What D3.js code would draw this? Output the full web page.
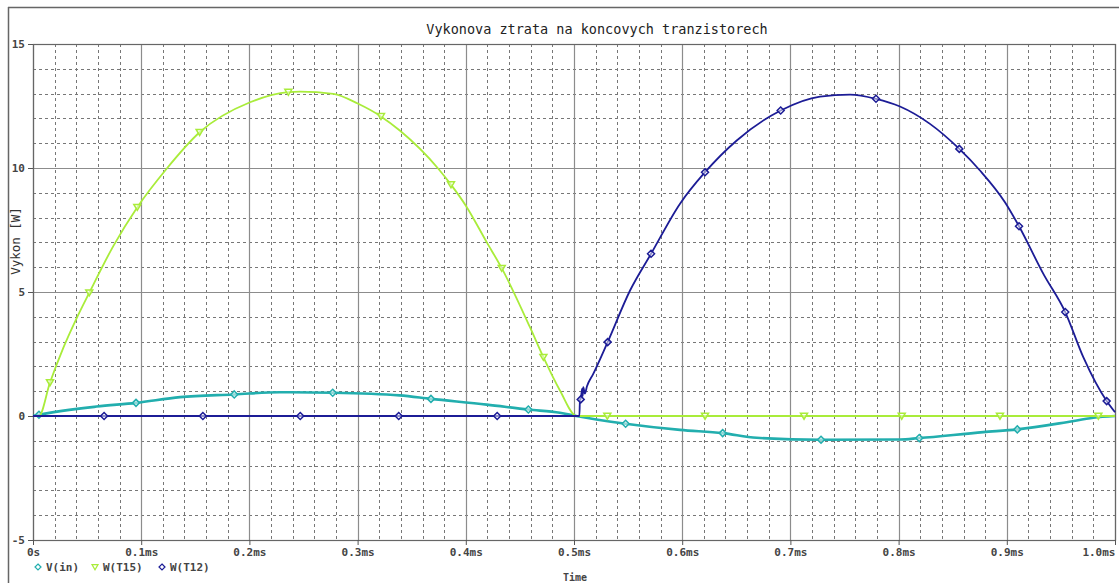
<!DOCTYPE html>
<html>
<head>
<meta charset="utf-8">
<script src="https://cdn.jsdelivr.net/npm/d3@7"></script>
<style>
  body { margin: 0; background: #fff; }
  svg { display: block; }
</style>
</head>
<body>
<div id="chart"></div>
<script>
// PSPICE PROBE PLOT - power loss on the output transistors

// time in ms, values in W (V for V(in))
var vinTime = [0, 0.0055, 0.0588, 0.0952, 0.1359, 0.186, 0.228, 0.277, 0.339, 0.3678, 0.4193, 0.4578, 0.487, 0.502,
               0.5477, 0.598, 0.6374, 0.6688, 0.7283, 0.8013, 0.8191, 0.8783, 0.9097, 0.9553, 0.98, 1.0];
var vinVal  = [0, 0.05, 0.38, 0.53, 0.76, 0.87, 0.96, 0.94, 0.83, 0.69, 0.46, 0.26, 0.13, 0,
               -0.31, -0.56, -0.69, -0.88, -0.96, -0.95, -0.89, -0.65, -0.54, -0.25, -0.07, 0];
var vinMarks = [1, 3, 5, 7, 9, 11, 14, 16, 18, 20, 22];

var t15Time = [0, 0.0055, 0.0157, 0.028, 0.0404, 0.052, 0.0742, 0.0964, 0.1235, 0.154, 0.2006, 0.236, 0.2468, 0.2775,
               0.3006, 0.3216, 0.339, 0.3746, 0.3863, 0.3999, 0.4193, 0.4332, 0.4593, 0.4717, 0.487, 0.5025,
               0.5308, 0.6211, 0.7126, 0.8029, 0.8937, 0.9846, 1.0];
var t15Val  = [0, 0, 1.35, 2.75, 3.95, 4.97, 6.85, 8.42, 9.97, 11.44, 12.65, 13.06, 13.08, 12.99,
               12.59, 12.08, 11.51, 9.97, 9.33, 8.49, 7.01, 5.96, 3.58, 2.37, 1.03, 0,
               0, 0, 0, 0, 0, 0, 0];
var t15Marks = [2, 5, 7, 9, 11, 15, 18, 21, 23, 26, 27, 28, 29, 30, 31];

var t12Time = [0, 0.0657, 0.157, 0.247, 0.338, 0.429, 0.505, 0.5055, 0.5062, 0.5075, 0.508, 0.5086, 0.510, 0.512,
               0.5178, 0.5311, 0.5518, 0.5712, 0.598, 0.6211, 0.6504, 0.691, 0.7274, 0.7551, 0.7791, 0.8013,
               0.829, 0.8561, 0.8752, 0.8983, 0.9113, 0.9338, 0.954, 0.9707, 0.9923, 1.0];
var t12Val  = [0, 0, 0, 0, 0, 0, 0, 0.7, 0.67, 1.1, 0.8, 1.16, 0.9, 1.2,
               1.7, 2.98, 5.06, 6.54, 8.56, 9.83, 11.11, 12.32, 12.88, 12.96, 12.79, 12.48,
               11.78, 10.77, 9.9, 8.62, 7.65, 5.73, 4.19, 2.37, 0.6, 0.15];
var t12Marks = [1, 2, 3, 4, 5, 8, 15, 17, 19, 21, 24, 27, 30, 32, 34];

var xTicks = [0, 0.1, 0.2, 0.3, 0.4, 0.5, 0.6, 0.7, 0.8, 0.9, 1.0];
var xTickLabels = ["0s", "0.1ms", "0.2ms", "0.3ms", "0.4ms", "0.5ms", "0.6ms", "0.7ms", "0.8ms", "0.9ms", "1.0ms"];
var yTicks = [-5, 0, 5, 10, 15];

var seriesNames = ["V(in)", "W(T15)", "W(T12)"];
var seriesColors = ["#22aeae", "#a9ec3a", "#1c1c96"];

var width = 1119, height = 583;
var plot = { left: 33, right: 1115, top: 44, bottom: 540 };
var mono = "'DejaVu Sans Mono', monospace";

var svg = d3.select("#chart").append("svg")
    .attr("width", width)
    .attr("height", height);

var x = d3.scaleLinear().domain([0, 1]).range([plot.left, plot.right]);
var y = d3.scaleLinear().domain([-5, 15]).range([plot.bottom, plot.top]);

// outer frame of the probe window
svg.append("line").attr("x1", 8).attr("x2", width).attr("y1", 7.5).attr("y2", 7.5)
    .attr("stroke", "#666").attr("stroke-width", 1.5);
svg.append("line").attr("x1", 8.5).attr("x2", 8.5).attr("y1", 7).attr("y2", height)
    .attr("stroke", "#666").attr("stroke-width", 1.5);

svg.append("text")
    .attr("x", 597).attr("y", 34)
    .attr("text-anchor", "middle")
    .style("font", "13.5px " + mono)
    .style("fill", "#222")
    .text("Vykonova ztrata na koncovych tranzistorech");

// grid
var grid = svg.append("g");
var minorX = d3.range(0, 51).map(function(i) { return i / 50; }).filter(function(d, i) { return i % 5 != 0; });
var minorY = d3.range(-5, 16).filter(function(d) { return d % 5 != 0; });

grid.selectAll(".mx").data(minorX).enter().append("line")
    .attr("x1", function(d) { return Math.round(x(d)) + 0.5; })
    .attr("x2", function(d) { return Math.round(x(d)) + 0.5; })
    .attr("y1", plot.top).attr("y2", plot.bottom)
    .attr("stroke", "#777").attr("stroke-dasharray", "3,3");
grid.selectAll(".my").data(minorY).enter().append("line")
    .attr("y1", function(d) { return Math.round(y(d)) + 0.5; })
    .attr("y2", function(d) { return Math.round(y(d)) + 0.5; })
    .attr("x1", plot.left).attr("x2", plot.right)
    .attr("stroke", "#777").attr("stroke-dasharray", "3,3");
grid.selectAll(".Mx").data(xTicks).enter().append("line")
    .attr("x1", function(d) { return Math.round(x(d)) + 0.5; })
    .attr("x2", function(d) { return Math.round(x(d)) + 0.5; })
    .attr("y1", plot.top).attr("y2", plot.bottom)
    .attr("stroke", "#8c8c8c").attr("stroke-width", 1.2);
grid.selectAll(".My").data(yTicks).enter().append("line")
    .attr("y1", function(d) { return Math.round(y(d)) + 0.5; })
    .attr("y2", function(d) { return Math.round(y(d)) + 0.5; })
    .attr("x1", plot.left).attr("x2", plot.right)
    .attr("stroke", "#8c8c8c").attr("stroke-width", 1.2);

svg.append("rect")
    .attr("x", plot.left + 0.5).attr("y", plot.top + 0.5)
    .attr("width", plot.right - plot.left).attr("height", plot.bottom - plot.top)
    .attr("fill", "none").attr("stroke", "#666").attr("stroke-width", 1.2);

// axes
var xAxis = d3.axisBottom(x)
    .tickValues(xTicks)
    .tickFormat(function(d, i) { return xTickLabels[i]; })
    .tickSize(5);
var yAxis = d3.axisLeft(y)
    .tickValues(yTicks)
    .tickFormat(function(d) { return d; })
    .tickSize(5);

var gx = svg.append("g")
    .attr("transform", "translate(0," + plot.bottom + ")")
    .call(xAxis);
var gy = svg.append("g")
    .attr("transform", "translate(" + plot.left + ",0)")
    .call(yAxis);

[gx, gy].forEach(function(g) {
    g.select(".domain").remove();
    g.selectAll(".tick line").attr("stroke", "#555");
    g.selectAll("text").style("font", "bold 11px " + mono).style("fill", "#444");
});
gx.selectAll(".tick text").filter(function(d, i) { return i == xTicks.length - 1; })
    .attr("text-anchor", "end");

svg.append("text")
    .attr("transform", "translate(20,241) rotate(-90)")
    .attr("text-anchor", "middle")
    .style("font", "12.5px " + mono)
    .style("fill", "#333")
    .text("Vykon [W]");

svg.append("text")
    .attr("x", 575).attr("y", 581)
    .attr("text-anchor", "middle")
    .style("font", "bold 10px " + mono)
    .style("fill", "#444")
    .text("Time");

// traces
var series = [
    { time: vinTime, val: vinVal, marks: vinMarks, width: 2.6, symbol: "diamond" },
    { time: t15Time, val: t15Val, marks: t15Marks, width: 1.8, symbol: "triangle" },
    { time: t12Time, val: t12Val, marks: t12Marks, width: 1.8, symbol: "diamond" }
];

var line = d3.line()
    .curve(d3.curveMonotoneX)
    .x(function(d) { return x(d[0]); })
    .y(function(d) { return y(d[1]); });

function markerPath(type, size) {
    if (type == "triangle") {
        return "M" + (-size) + "," + (-size * 0.8) + "L" + size + "," + (-size * 0.8) + "L0," + (size * 0.9) + "Z";
    }
    return "M0," + (-size) + "L" + size + ",0L0," + size + "L" + (-size) + ",0Z";
}

series.forEach(function(s, k) {
    var pts = s.time.map(function(t, i) { return [t, s.val[i]]; });
    var g = svg.append("g");
    g.append("path")
        .datum(pts)
        .attr("d", line)
        .attr("fill", "none")
        .attr("stroke", seriesColors[k])
        .attr("stroke-width", s.width)
        .attr("stroke-linejoin", "round");
    g.selectAll("path.mark")
        .data(s.marks.map(function(i) { return pts[i]; }))
        .enter().append("path")
        .attr("class", "mark")
        .attr("transform", function(d) { return "translate(" + x(d[0]) + "," + y(d[1]) + ")"; })
        .attr("d", markerPath(s.symbol, 3.5))
        .attr("fill", "#fff")
        .attr("fill-opacity", 0.5)
        .attr("stroke", seriesColors[k])
        .attr("stroke-width", 1.5);
});

// legend
var legendX = [38, 95, 162];
var legend = svg.append("g");
seriesNames.forEach(function(name, k) {
    legend.append("path")
        .attr("transform", "translate(" + legendX[k] + ",567)")
        .attr("d", markerPath(series[k].symbol, 3))
        .attr("fill", "#fff")
        .attr("stroke", seriesColors[k])
        .attr("stroke-width", 1.2);
    legend.append("text")
        .attr("x", legendX[k] + 8).attr("y", 571)
        .style("font", "bold 11px " + mono)
        .style("fill", "#444")
        .text(name);
});
</script>
</body>
</html>
